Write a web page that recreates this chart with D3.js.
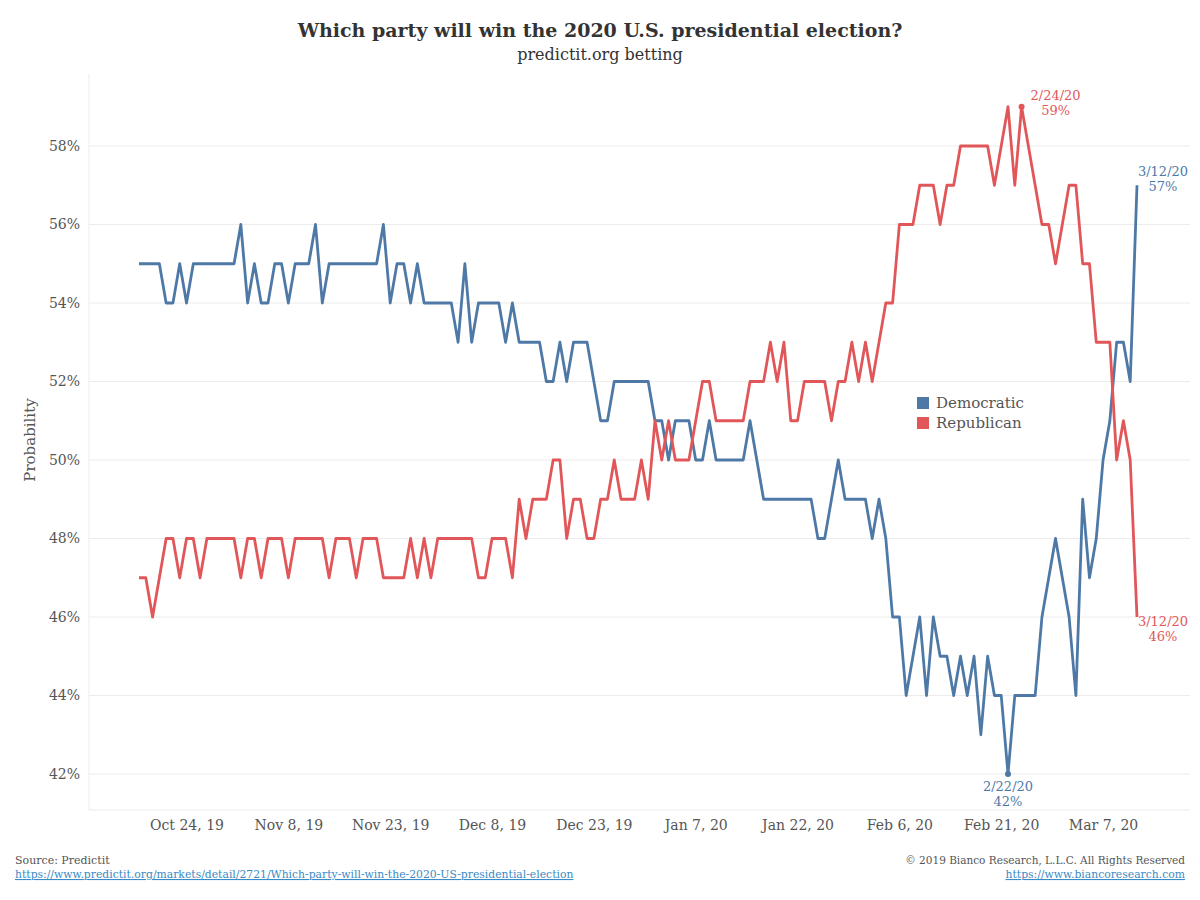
<!DOCTYPE html>
<html><head><meta charset="utf-8">
<script src="https://cdn.jsdelivr.net/npm/d3@7"></script>
<style>
body{margin:0;background:#fff;}
svg text{font-family:"DejaVu Serif","Liberation Serif",serif;}
</style></head>
<body><svg id="c" width="1200" height="900"></svg>
<script>
const startDate = "2019-10-17";
const democratic = [55,55,55,55,54,54,55,54,55,55,55,55,55,55,55,56,54,55,54,54,55,55,54,55,55,55,56,54,55,55,
55,55,55,55,55,55,56,54,55,55,54,55,54,54,54,54,54,53,55,53,54,54,54,54,53,54,53,53,53,53,
52,52,53,52,53,53,53,52,51,51,52,52,52,52,52,52,51,51,50,51,51,51,50,50,51,50,50,50,50,50,
51,50,49,49,49,49,49,49,49,49,48,48,49,50,49,49,49,49,48,49,48,46,46,44,45,46,44,46,45,45,
44,45,44,45,43,45,44,44,42,44,44,44,44,46,47,48,47,46,44,49,47,48,50,51,53,53,52,57];
const republican = [47,47,46,47,48,48,47,48,48,47,48,48,48,48,48,47,48,48,47,48,48,48,47,48,48,48,48,48,47,48,
48,48,47,48,48,48,47,47,47,47,48,47,48,47,48,48,48,48,48,48,47,47,48,48,48,47,49,48,49,49,
49,50,50,48,49,49,48,48,49,49,50,49,49,49,50,49,51,50,51,50,50,50,51,52,52,51,51,51,51,51,
52,52,52,53,52,53,51,51,52,52,52,52,51,52,52,53,52,53,52,53,54,54,56,56,56,57,57,57,56,57,
57,58,58,58,58,58,57,58,59,57,59,58,57,56,56,55,56,57,57,55,55,53,53,53,50,51,50,46];
const tickDates = ["2019-10-24","2019-11-08","2019-11-23","2019-12-08","2019-12-23","2020-01-07","2020-01-22","2020-02-06","2020-02-21","2020-03-07"];
const tickLabels = ["Oct 24, 19","Nov 8, 19","Nov 23, 19","Dec 8, 19","Dec 23, 19","Jan 7, 20","Jan 22, 20","Feb 6, 20","Feb 21, 20","Mar 7, 20"];
const yTicks = [42,44,46,48,50,52,54,56,58];
const annotations = [
  {series:"Republican", date:"2020-02-24", label:"2/24/20", value:59, pos:"top"},
  {series:"Democratic", date:"2020-02-22", label:"2/22/20", value:42, pos:"bottom"},
  {series:"Democratic", date:"2020-03-12", label:"3/12/20", value:57, pos:"rightUp"},
  {series:"Republican", date:"2020-03-12", label:"3/12/20", value:46, pos:"rightDown"}
];

const colors = {Democratic:"#4e79a7", Republican:"#e15759"};
const parse = d3.utcParse("%Y-%m-%d");
const t0 = parse(startDate);
const dates = democratic.map((_,i)=>d3.utcDay.offset(t0,i));
const svg = d3.select("#c");

const x = d3.scaleUtc().domain([dates[0], dates[dates.length-1]]).range([139,1137]);
const y = d3.scaleLinear().domain([42,58]).range([774,146]);
const L=89, R=1190, T=74, B=810;

// gridlines
svg.append("g").selectAll("line").data(yTicks).join("line")
  .attr("x1",L).attr("x2",R).attr("y1",d=>y(d)).attr("y2",d=>y(d))
  .attr("stroke","#ececec").attr("stroke-width",1);
svg.append("line").attr("x1",L).attr("x2",L).attr("y1",T).attr("y2",B).attr("stroke","#ececec");
svg.append("line").attr("x1",L).attr("x2",R).attr("y1",B).attr("y2",B).attr("stroke","#ececec");

// y axis
const yAxis = svg.append("g").attr("transform",`translate(${L},0)`)
  .call(d3.axisLeft(y).tickValues(yTicks).tickFormat(d=>d+"%").tickSize(0).tickPadding(9));
yAxis.select(".domain").remove();
yAxis.selectAll("text").attr("font-size",14).attr("fill","#555").attr("font-family","DejaVu Serif");

// x axis
const xAxis = svg.append("g").attr("transform",`translate(0,${B})`)
  .call(d3.axisBottom(x).tickValues(tickDates.map(parse)).tickFormat((d,i)=>tickLabels[i]).tickSize(0).tickPadding(10));
xAxis.select(".domain").remove();
xAxis.selectAll("text").attr("font-size",14).attr("fill","#555").attr("font-family","DejaVu Serif");

// y title
svg.append("text").attr("transform","translate(35,440) rotate(-90)").attr("text-anchor","middle")
  .attr("font-size",15).attr("fill","#555").text("Probability");

// lines
const line = d3.line().x((d,i)=>x(dates[i])).y(d=>y(d));
[["Democratic",democratic],["Republican",republican]].forEach(([k,v])=>{
  svg.append("path").datum(v).attr("d",line).attr("fill","none")
    .attr("stroke",colors[k]).attr("stroke-width",2.8).attr("stroke-linejoin","round");
});

// annotations
annotations.forEach(a=>{
  const px = x(parse(a.date)), py = y(a.value), c = colors[a.series];
  if(a.pos==="top"||a.pos==="bottom") svg.append("circle").attr("cx",px).attr("cy",py).attr("r",3).attr("fill",c);
  let tx, ty;
  if(a.pos==="top"){tx=px+34; ty=py-7;}
  else if(a.pos==="bottom"){tx=px; ty=py+17;}
  else if(a.pos==="rightUp"){tx=px+26; ty=py-9;}
  else {tx=px+26; ty=py+9;}
  const g = svg.append("text").attr("text-anchor","middle").attr("fill",c).attr("font-size",13);
  g.append("tspan").attr("x",tx).attr("y",ty).text(a.label);
  g.append("tspan").attr("x",tx).attr("y",ty+15).text(a.value+"%");
});

// legend
const leg = svg.append("g").attr("transform","translate(917,397)");
["Democratic","Republican"].forEach((k,i)=>{
  leg.append("rect").attr("x",0).attr("y",i*20).attr("width",12).attr("height",12).attr("fill",colors[k]);
  leg.append("text").attr("x",19).attr("y",i*20+11).attr("font-size",15).attr("fill","#555").text(k);
});

// title
svg.append("text").attr("x",600).attr("y",37).attr("text-anchor","middle").attr("font-size",19)
  .attr("font-weight","bold").attr("fill","#333").text("Which party will win the 2020 U.S. presidential election?");
svg.append("text").attr("x",600).attr("y",60).attr("text-anchor","middle").attr("font-size",16)
  .attr("fill","#333").text("predictit.org betting");

// footer
function foot(xp, yp, anchor, col, txt, fs, underline){
  const t = svg.append("text").attr("x",xp).attr("y",yp).attr("text-anchor",anchor).attr("font-size",fs)
    .attr("fill",col).attr("font-family","Liberation Serif").text(txt);
  if(underline) t.attr("text-decoration","underline");
}
foot(15,864,"start","#555","Source: Predictit",11,false);
foot(15,878,"start","#3a8ac4","https://www.predictit.org/markets/detail/2721/Which-party-will-win-the-2020-US-presidential-election",10.8,true);
foot(1185,864,"end","#555","© 2019 Bianco Research, L.L.C. All Rights Reserved",10.5,false);
foot(1185,878,"end","#3a8ac4","https://www.biancoresearch.com",10.8,true);
</script></body></html>
